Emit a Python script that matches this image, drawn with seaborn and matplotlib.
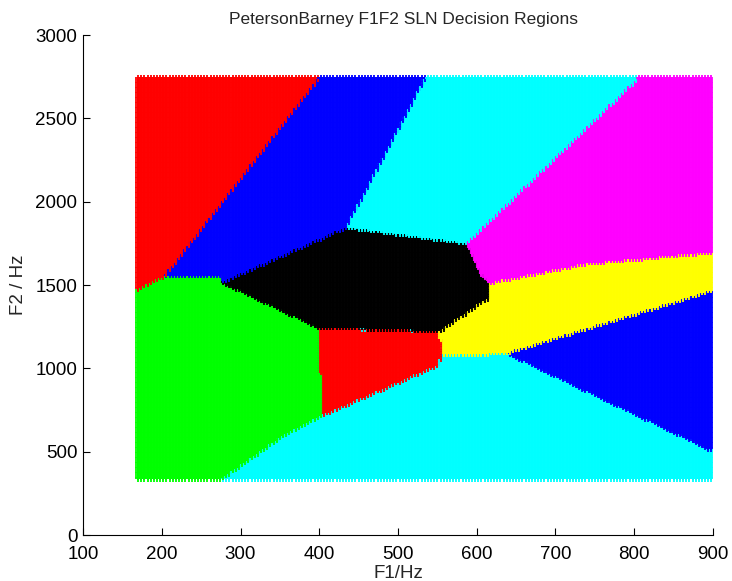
#!/usr/bin/env python3
import numpy as np
import pandas as pd
import matplotlib
matplotlib.use("Agg")
import matplotlib.pyplot as plt
from matplotlib.path import Path
import seaborn as sns

# decision region outlines (F1 Hz, F2 Hz)
red_upper = [(100, 3000), (442, 3000), (204, 1554), (167, 1470), (100, 1470)]
blue_upper = [(442, 3000), (564, 3000), (435, 1848), (276.5, 1518), (278, 1554), (204, 1554)]
cyan_upper = [(564, 3000), (862, 3000), (587.6, 1752), (435, 1848)]
magenta = [(862, 3000), (950, 3000), (950, 1710), (900, 1698), (739.6, 1630),
           (616.8, 1515), (607.9, 1548), (587.6, 1752)]
black = [(276.5, 1518), (435, 1848), (587.6, 1752), (607.9, 1548), (616.8, 1515),
         (616.8, 1428), (553.3, 1224), (460.3, 1240), (398.4, 1248)]
yellow = [(616.8, 1515), (739.6, 1630), (900, 1698), (950, 1710), (950, 1542),
          (638, 1094), (555.5, 1080), (553.3, 1224), (616.8, 1428)]
blue_lower = [(638, 1094), (950, 1542), (950, 394)]
red_lower = [(398.4, 1248), (553.3, 1224), (555.5, 1080), (551.2, 1020),
             (405.1, 720), (403, 900)]
green = [(100, 1470), (167, 1470), (204, 1554), (278, 1554), (276.5, 1518),
         (398.4, 1248), (403, 900), (405.1, 720), (358.7, 610), (316.3, 470),
         (274, 330), (274, 0), (100, 0)]
# lower cyan region = everything not covered above

regions = {
    "red_upper": red_upper, "blue_upper": blue_upper, "cyan_upper": cyan_upper,
    "magenta": magenta, "black": black, "yellow": yellow, "blue_lower": blue_lower,
    "red_lower": red_lower, "green": green,
}
colours = {
    "red_upper": "#ff0000", "blue_upper": "#0000ff", "cyan_upper": "#00ffff",
    "magenta": "#ff00ff", "black": "#000000", "yellow": "#ffff00",
    "blue_lower": "#0000ff", "red_lower": "#ff0000", "green": "#00ff00",
    "cyan_lower": "#00ffff",
}

# sampling grid of the F1/F2 plane
f1_grid = np.arange(170, 901, 4)
f2_grid = np.arange(340, 2741, 10)

F1, F2 = np.meshgrid(f1_grid, f2_grid)
pts = np.column_stack([F1.ravel(), F2.ravel()])
label = np.full(len(pts), "cyan_lower", dtype=object)
for name, poly in regions.items():
    label[Path(poly).contains_points(pts)] = name

df = pd.DataFrame({"F1": pts[:, 0], "F2": pts[:, 1], "region": label})

sns.set_theme(style="white")
plt.rcParams["font.family"] = ["Liberation Sans", "DejaVu Sans"]

fig = plt.figure(figsize=(7.32, 5.81), dpi=100)
ax = fig.add_axes([83 / 732, 46 / 581, 630 / 732, 500 / 581])

sns.scatterplot(data=df, x="F1", y="F2", hue="region", palette=colours,
                marker="+", s=24, linewidth=1.3, legend=False, ax=ax)

ax.set_xlim(100, 900)
ax.set_ylim(0, 3000)
ax.set_xticks(range(100, 901, 100))
ax.set_yticks(range(0, 3001, 500))
ax.tick_params(direction="in", length=5, width=0.8, labelsize=13.5,
               colors="black", left=True, bottom=True)
ax.tick_params(axis="x", pad=8)
ax.tick_params(axis="y", pad=4)
for side in ["top", "right"]:
    ax.spines[side].set_visible(False)
for side in ["left", "bottom"]:
    ax.spines[side].set_color("black")
    ax.spines[side].set_linewidth(0.8)

ax.set_xlabel("F1/Hz", fontsize=13.5, labelpad=1)
ax.set_ylabel("F2 / Hz", fontsize=13.5, labelpad=6)
ax.set_title("PetersonBarney F1F2 SLN Decision Regions", fontsize=12.5, pad=8, x=0.508)

fig.savefig("out.png", dpi=100)
